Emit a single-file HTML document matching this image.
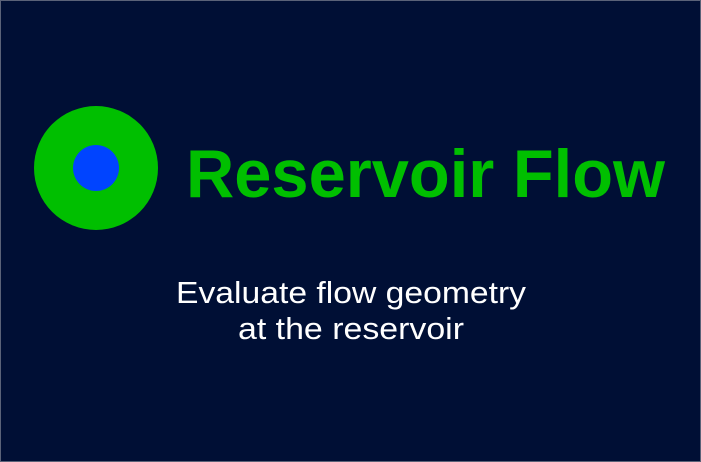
<!DOCTYPE html>
<html><head><style>
html,body{margin:0;padding:0;background:#000f35;}
svg{display:block;}
</style></head><body>
<svg width="701" height="462" viewBox="0 0 701 462" xmlns="http://www.w3.org/2000/svg">
<rect x="0.5" y="0.5" width="700" height="461" fill="#000f35" stroke="#5a6278" stroke-width="1"/>
<circle cx="96" cy="168" r="62" fill="#00bf00"/>
<circle cx="96" cy="168" r="23" fill="#0044ff"/>
<text x="186" y="197" font-family="Liberation Sans, sans-serif" font-weight="bold" font-size="68" fill="#00bf00" textLength="479" lengthAdjust="spacingAndGlyphs">Reservoir Flow</text>
<text x="176" y="303" font-family="Liberation Sans, sans-serif" font-size="31" fill="#ffffff" textLength="350" lengthAdjust="spacingAndGlyphs">Evaluate flow geometry</text>
<text x="238" y="339" font-family="Liberation Sans, sans-serif" font-size="31" fill="#ffffff" textLength="226" lengthAdjust="spacingAndGlyphs">at the reservoir</text>
</svg>
</body></html>
